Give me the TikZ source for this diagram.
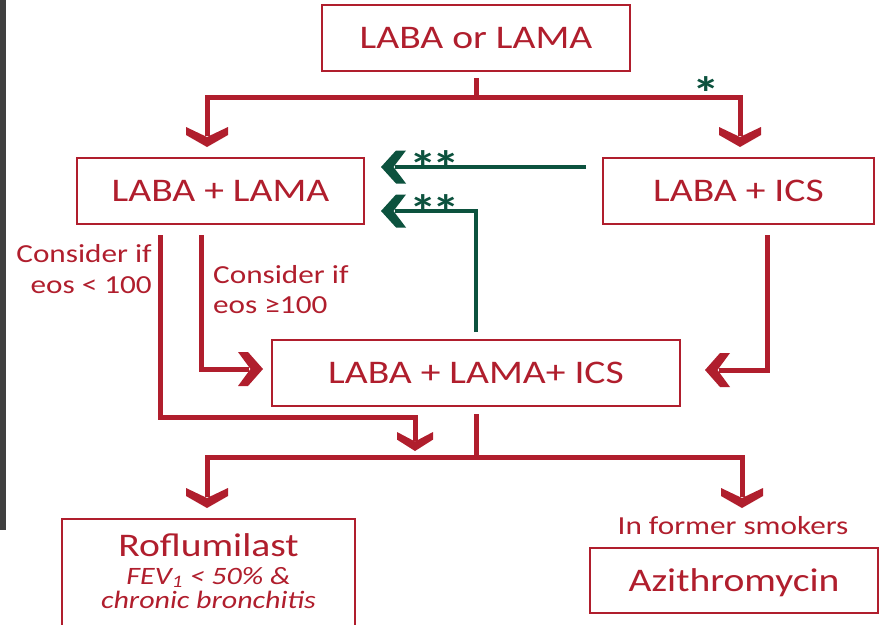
\documentclass[tikz,border=0pt]{standalone}
\usepackage{fontspec}
\setmainfont{Carlito}[FakeStretch=1.2]
\usetikzlibrary{calc}
\definecolor{redc}{RGB}{176,30,45}
\definecolor{grnc}{RGB}{12,82,62}
\definecolor{barc}{RGB}{64,64,64}
\begin{document}
\begin{tikzpicture}[x=1pt,y=-1pt,
  box/.style={draw=redc, line width=2pt, text=redc, inner sep=0pt, text height=21.3pt, text depth=0pt, font=\fontsize{33}{40}\selectfont},
  rl/.style={draw=redc, line width=5pt},
  gl/.style={draw=grnc, line width=4pt},
  lbl/.style={text=redc, inner sep=0pt, font=\fontsize{26}{31}\selectfont},
  ilbl/.style={text=redc, inner sep=0pt, font=\fontsize{25}{30}\selectfont\itshape},
  ast/.style={text=grnc, inner sep=0pt, font=\fontsize{46}{50}\selectfont\bfseries},
  pics/chev/.style n args={3}{code={\fill[#3] (0,0) -- (#1/2,-0.6*#2) -- (#1/2,-#2) -- (0,-0.5*#2) -- (-#1/2,-#2) -- (-#1/2,-0.6*#2) -- cycle;}}
]
\useasboundingbox (0,0) rectangle (880,624);
\fill[barc] (0,0) rectangle (6,530);

% boxes
\node[box, minimum width=308pt, minimum height=66pt] (top) at (476,38) {LABA or LAMA};
\node[box, minimum width=287pt, minimum height=66pt] (ll) at (220.5,191) {LABA + LAMA};
\node[box, minimum width=271pt, minimum height=66pt] (li) at (738.5,191) {LABA + ICS};
\node[box, minimum width=408pt, minimum height=66pt] (lli) at (476,373) {LABA + LAMA+ ICS};
\node[box, minimum width=288pt, minimum height=65pt] (azi) at (734,580.5) {Azithromycin};
\node[draw=redc, line width=2pt, minimum width=293pt, minimum height=130pt, anchor=north, inner sep=0pt] (rof) at (208.5,518) {};

% texts
\node[text=redc, inner sep=0pt, anchor=base, text depth=0pt, font=\fontsize{33}{40}\selectfont] (rofT) at (208.5,556) {Roflumilast};
\node[ilbl, anchor=base, text height=16pt, text depth=0pt] (rofA) at (208.5,584) {FEV\textsubscript{1} < 50\% \&};
\node[ilbl, anchor=base, text height=16pt, text depth=0pt] (rofB) at (208.5,608.5) {chronic bronchitis};
\node[lbl, anchor=base] (smk) at (733,534) {In former smokers};
\node[lbl, anchor=base east] (e1) at (152,262) {Consider if};
\node[lbl, anchor=base east] (e2) at (152,293) {eos < 100};
\node[lbl, anchor=base west] (e3) at (213,283) {Consider if};
\node[lbl, anchor=base west] (e4) at (213,313) {eos ≥100};

% asterisks
\node[ast, anchor=base west] (s1) at (692,109) {*};
\node[ast, anchor=base west] (s2) at (409,183) {*\kern-4pt*};
\node[ast, anchor=base west] (s3) at (409,227) {*\kern-4pt*};

% coordinates
\coordinate (J1) at (476,97);
\coordinate (tA) at (207,147);
\coordinate (tB) at (740,147);
\coordinate (a2s) at (160,235);
\coordinate (tM) at (415,451);
\coordinate (a3s) at (201.5,235);
\coordinate (tR1) at (263,369);
\coordinate (a4s) at (767,235);
\coordinate (tL1) at (705,370);
\coordinate (J2) at (476,457);
\coordinate (tC) at (207,508);
\coordinate (tD) at (742,508);
\coordinate (tG1) at (381,167);
\coordinate (tG2) at (381,211);

% red connectors
\draw[rl] ([yshift=-6pt]top.south) -- (J1);
\draw[rl] ($(tA)+(0,-11)$) |- (J1) -| ($(tB)+(0,-11)$);
\pic at (tA) {chev={42}{20}{redc}};
\pic at (tB) {chev={42}{20}{redc}};

\draw[rl] (a2s) |- ($(tM)+(0,-34)$) -- ($(tM)+(0,-10)$);
\pic at (tM) {chev={36}{19}{redc}};

\draw[rl] (a3s) |- ($(tR1)+(-14,0)$);
\pic[rotate=90] at (tR1) {chev={34}{25}{redc}};

\draw[rl] (a4s) |- ($(tL1)+(14,0)$);
\pic[rotate=-90] at (tL1) {chev={34}{25}{redc}};

\draw[rl] ([yshift=-7pt]lli.south) -- (J2);
\draw[rl] ($(tC)+(0,-11)$) |- (J2) -| ($(tD)+(0,-11)$);
\pic at (tC) {chev={42}{20}{redc}};
\pic at (tD) {chev={42}{20}{redc}};

% green connectors
\draw[gl] ($(li.west |- tG1)+(-16,0)$) -- ($(tG1)+(14,0)$);
\draw[gl] ([yshift=7pt]lli.north) |- ($(tG2)+(14,0)$);
\pic[rotate=-90] at (tG1) {chev={33}{25}{grnc}};
\pic[rotate=-90] at (tG2) {chev={33}{25}{grnc}};
\end{tikzpicture}
\end{document}
